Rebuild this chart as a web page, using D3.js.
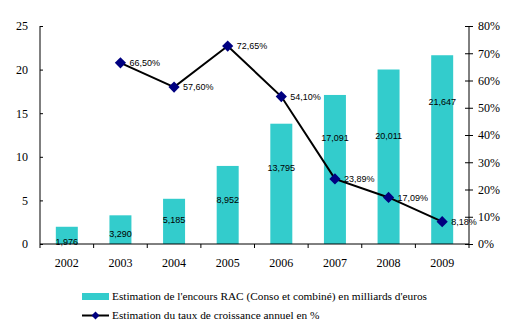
<!DOCTYPE html>
<html>
<head>
<meta charset="utf-8">
<script src="https://cdn.jsdelivr.net/npm/d3@7"></script>
<style>
  body { margin: 0; background: #fff; }
  svg text { font-family: "Liberation Serif", "Times New Roman", serif; }
  .lbl { font-family: "Liberation Sans", Arial, sans-serif; font-size: 9px; }
</style>
</head>
<body>
<svg id="chart" width="519" height="332"></svg>
<script>
// data
var years = ["2002", "2003", "2004", "2005", "2006", "2007", "2008", "2009"];
var encours = [1.976, 3.290, 5.185, 8.952, 13.795, 17.091, 20.011, 21.647];
var encoursText = ["1,976", "3,290", "5,185", "8,952", "13,795", "17,091", "20,011", "21,647"];
var croissYears = ["2003", "2004", "2005", "2006", "2007", "2008", "2009"];
var croissance = [0.665, 0.576, 0.7265, 0.541, 0.2389, 0.1709, 0.0818];
var croissText = ["66,50%", "57,60%", "72,65%", "54,10%", "23,89%", "17,09%", "8,18%"];
var leftTicks = [0, 5, 10, 15, 20, 25];
var rightTicks = [0, 0.1, 0.2, 0.3, 0.4, 0.5, 0.6, 0.7, 0.8];
// where the bar labels sit, in left-axis units (placed by hand in the original)
var barLabelLevel = [0.23, 1.15, 2.75, 5.05, 8.7, 12.2, 12.4, 16.3];

var svg = d3.select("svg#chart");

var plotL = 40, plotR = 469, plotT = 26, plotB = 244;

var x = d3.scaleBand().domain(years).range([plotL, plotR]).paddingInner(0.59).paddingOuter(0.295);
var xb = d3.scaleBand().domain(years).range([plotL, plotR]);
var y = d3.scaleLinear().domain([0, 25]).range([plotB, plotT]);
var y2 = d3.scaleLinear().domain([0, 0.8]).range([plotB, plotT]);

// bars
svg.selectAll("rect.bar")
   .data(encours)
   .enter().append("rect")
   .attr("class", "bar")
   .attr("x", function(d, i) { return x(years[i]); })
   .attr("y", function(d) { return y(d); })
   .attr("width", x.bandwidth())
   .attr("height", function(d) { return plotB - y(d); })
   .attr("fill", "#33CCCC");

// bar labels
svg.selectAll("text.blbl")
   .data(encoursText)
   .enter().append("text")
   .attr("class", "lbl")
   .attr("x", function(d, i) { return xb(years[i]) + xb.bandwidth() / 2; })
   .attr("y", function(d, i) { return y(barLabelLevel[i]); })
   .attr("dy", "0.35em")
   .attr("text-anchor", "middle")
   .text(function(d) { return d; });

// left axis
var axL = svg.append("g")
   .attr("transform", "translate(" + plotL + ",0)")
   .call(d3.axisLeft(y).tickValues(leftTicks).tickSize(5).tickPadding(7));
axL.selectAll(".tick line").attr("x2", 3);

// right axis
var axR = svg.append("g")
   .attr("transform", "translate(" + plotR + ",0)")
   .call(d3.axisRight(y2).tickValues(rightTicks).tickFormat(d3.format(".0%")).tickSize(4).tickPadding(5));
axR.selectAll(".tick line").attr("x1", -4);

// bottom axis
var axB = svg.append("g")
   .attr("transform", "translate(0," + plotB + ")")
   .call(d3.axisBottom(xb).tickSize(0).tickPadding(14));
axB.selectAll(".tick line").remove();
svg.selectAll("line.xt")
   .data(d3.range(years.length + 1))
   .enter().append("line")
   .attr("x1", function(d) { return plotL + d * xb.step(); })
   .attr("x2", function(d) { return plotL + d * xb.step(); })
   .attr("y1", plotB).attr("y2", plotB + 4)
   .attr("stroke", "#000");

svg.selectAll(".domain").attr("stroke", "#000").attr("stroke-width", 1);
svg.selectAll(".tick text").attr("font-size", 12).attr("fill", "#000")
   .attr("font-family", "Liberation Serif, Times New Roman, serif");
svg.selectAll(".tick line").attr("stroke", "#000");
axL.select(".domain").attr("d", "M0," + plotT + "V" + plotB);
axR.select(".domain").attr("d", "M0," + plotT + "V" + plotB);
axB.select(".domain").attr("d", "M" + plotL + ",0H" + plotR);

// line
var line = d3.line()
   .x(function(d, i) { return xb(croissYears[i]) + xb.bandwidth() / 2; })
   .y(function(d) { return y2(d); });

svg.append("path")
   .datum(croissance)
   .attr("d", line)
   .attr("fill", "none")
   .attr("stroke", "#000")
   .attr("stroke-width", 2);

svg.selectAll("path.mk")
   .data(croissance)
   .enter().append("path")
   .attr("class", "mk")
   .attr("d", d3.symbol().type(d3.symbolDiamond2).size(80))
   .attr("transform", function(d, i) {
       return "translate(" + (xb(croissYears[i]) + xb.bandwidth() / 2) + "," + y2(d) + ")";
   })
   .attr("fill", "#000080");

svg.selectAll("text.llbl")
   .data(croissText)
   .enter().append("text")
   .attr("class", "lbl")
   .attr("x", function(d, i) { return xb(croissYears[i]) + xb.bandwidth() / 2 + 9; })
   .attr("y", function(d, i) { return y2(croissance[i]); })
   .attr("dy", "0.35em")
   .text(function(d) { return d; });

// legend
svg.append("rect")
   .attr("x", 82).attr("y", 293).attr("width", 27).attr("height", 7)
   .attr("fill", "#33CCCC");
svg.append("text")
   .attr("x", 112).attr("y", 296.5).attr("dy", "0.35em")
   .attr("font-size", 11.3)
   .text("Estimation de l'encours RAC (Conso et combiné) en milliards d'euros");

svg.append("line")
   .attr("x1", 82).attr("x2", 109).attr("y1", 315.5).attr("y2", 315.5)
   .attr("stroke", "#000").attr("stroke-width", 2);
svg.append("path")
   .attr("d", d3.symbol().type(d3.symbolDiamond2).size(40))
   .attr("transform", "translate(95.5,315.5)")
   .attr("fill", "#000080");
svg.append("text")
   .attr("x", 112).attr("y", 315.5).attr("dy", "0.35em")
   .attr("font-size", 11.3)
   .text("Estimation du taux de croissance annuel en %");
</script>
</body>
</html>
